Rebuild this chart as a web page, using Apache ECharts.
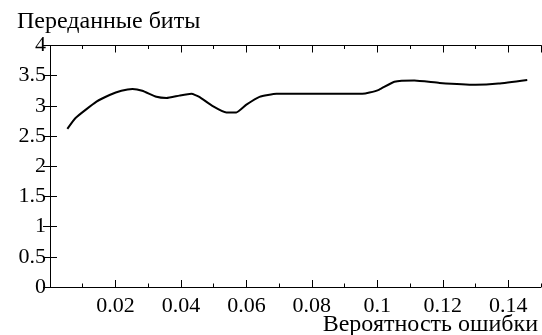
<!DOCTYPE html>
<html>
<head>
<meta charset="utf-8">
<script src="https://cdn.jsdelivr.net/npm/echarts@6/dist/echarts.min.js"></script>
<style>html,body{margin:0;padding:0;background:#fff;}#c{width:542px;height:335px;}</style>
</head>
<body>
<div id="c"></div>
<script>
// Error probability (x) and transmitted bits (y)
const errorProb = [0.0053, 0.0078, 0.0142, 0.0182, 0.0218, 0.0252, 0.0282, 0.0325, 0.0356, 0.0395, 0.0432, 0.0456, 0.0496, 0.0539, 0.0569, 0.0600, 0.0640, 0.0692, 0.0740, 0.0850, 0.0954, 0.0976, 0.1006, 0.1052, 0.1113, 0.1190, 0.1300, 0.1370, 0.1458];
const bits = [2.62, 2.80, 3.07, 3.18, 3.25, 3.28, 3.25, 3.15, 3.13, 3.17, 3.20, 3.15, 3.00, 2.89, 2.89, 3.02, 3.15, 3.20, 3.20, 3.20, 3.20, 3.22, 3.27, 3.40, 3.42, 3.38, 3.35, 3.37, 3.43];
const xTickLabels = ['0.02', '0.04', '0.06', '0.08', '0.1', '0.12', '0.14'];
const yTickLabels = ['0', '0.5', '1', '1.5', '2', '2.5', '3', '3.5', '4'];
const yName = 'Переданные биты';
const xName = 'Вероятность ошибки';

const FONT = "'Liberation Serif', serif";
const fmtX = v => { const s = String(+(+v).toFixed(2)); return xTickLabels.includes(s) ? s : ''; };
const fmtY = v => { const s = String(+(+v).toFixed(2)); return yTickLabels.includes(s) ? s : ''; };
const line = {show: true, lineStyle: {color: '#000', width: 1}};
const noLine = {show: false};
const lbl = {show: true, color: '#000', fontFamily: FONT, fontSize: 22};
function xAx(pos, interval, tickLen, showLine, showLabel) {
  return {
    type: 'value', position: pos, min: 0, max: 0.15, interval: interval,
    axisLine: showLine ? line : noLine,
    axisTick: {show: true, inside: true, length: tickLen, lineStyle: {color: '#000', width: 1}},
    axisLabel: showLabel ? Object.assign({}, lbl, {margin: 8, showMinLabel: false, showMaxLabel: false, formatter: fmtX}) : {show: false},
    splitLine: {show: false}
  };
}
function yAx(pos, showLabel) {
  return {
    type: 'value', position: pos, min: 0, max: 4, interval: 0.5,
    axisLine: line,
    axisTick: {show: true, inside: true, length: 7, lineStyle: {color: '#000', width: 1}},
    axisLabel: showLabel ? Object.assign({}, lbl, {margin: 4, formatter: fmtY}) : {show: false},
    splitLine: {show: false}
  };
}
const chart = echarts.init(document.getElementById('c'), null, {renderer: 'canvas'});
chart.setOption({
  animation: false,
  backgroundColor: '#fff',
  title: [
    {text: yName, left: 17, top: 10, padding: 0, textStyle: {fontFamily: FONT, fontSize: 24, fontWeight: 'normal', color: '#000'}},
    {text: xName, right: 4, top: 313, padding: 0, textStyle: {fontFamily: FONT, fontSize: 24, fontWeight: 'normal', color: '#000'}}
  ],
  grid: {left: 50, right: 1, top: 45.5, bottom: 48, containLabel: false},
  xAxis: [
    xAx('bottom', 0.02, 7, true, true),
    xAx('bottom', 0.01, 3.5, false, false),
    xAx('top', 0.02, 7, true, false),
    xAx('top', 0.01, 3.5, false, false)
  ],
  yAxis: [yAx('left', true), yAx('right', false)],
  series: [{
    type: 'line',
    data: errorProb.map((x, i) => [x, bits[i]]),
    xAxisIndex: 0, yAxisIndex: 0,
    showSymbol: false, smooth: 0.15,
    lineStyle: {color: '#000', width: 2}
  }]
});
</script>
</body>
</html>
